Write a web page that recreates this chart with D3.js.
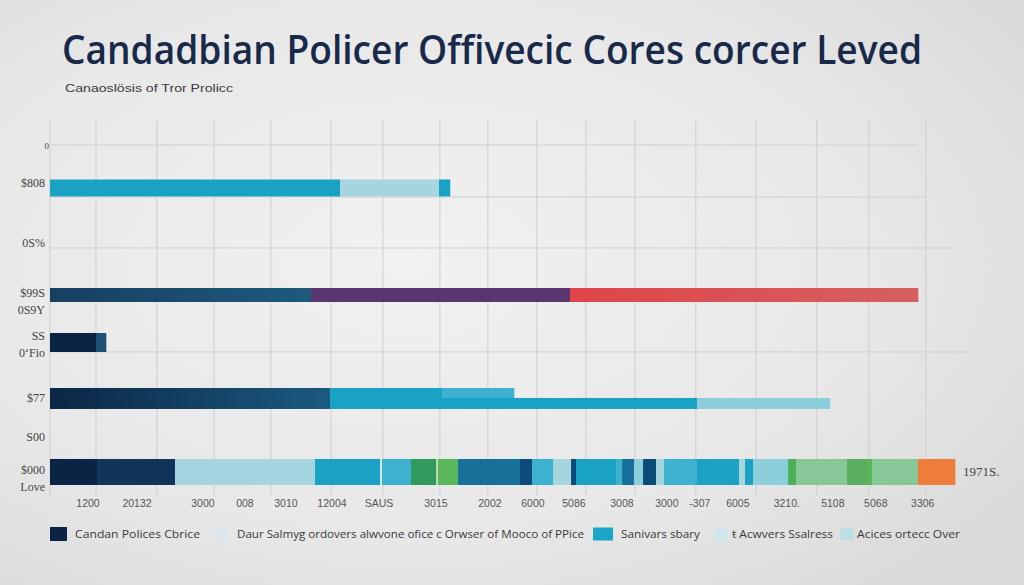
<!DOCTYPE html>
<html><head><meta charset="utf-8">
<script src="https://cdn.jsdelivr.net/npm/d3@7"></script>
<style>html,body{margin:0;padding:0;overflow:hidden;background:#e9e9e9}</style>
</head><body>
<svg id="chart" width="1024" height="585"></svg>
<script>
// ---------- data ----------
const titleText = "Candadbian Policer Offivecic Cores corcer Leved";
const subtitleText = "Canaoslösis of Tror Prolicc";

const xTickLabels = ["1200","20132","3000","008","3010","12004","SAUS","3015","2002","6000","5086","3008","3000","-307","6005","3210.","5108","5068","3306"];
const xTickValues = [694,1589,2794,3561,4310,5150,6008,7049,8035,8820,9569,10446,11267,11869,12563,13458,14298,15083,15941];
const xGridValues = [0,840,1954,2995,4035,5131,6081,7122,7998,8893,9787,10682,11796,12892,14006,14955,15996];

const yTickLabels = ["0","$808","0S%","$99S","0S9Y","SS","0ʻFio","$77","S00","$000","Love"];
const yTickLevels = [0,1.11,2.87,4.33,4.82,5.59,6.08,7.40,8.54,9.50,10];

const hGridLevels = [0,1.52,3.01,6.05];
const hGridEnds = [15832,15996,16489,16800];

const rowLevels = [1.257,4.386,5.775,7.251,7.558,9.561];

const row1Keys = ["teal","aqua","teal"];
const row1Values = [5297,1808,201];
const row2Keys = ["deepGrad","purple","redGrad"];
const row2Values = [4767,4731,6356];
const row3Keys = ["navy","deep"];
const row3Values = [840,183];
const row4aKeys = ["navyGrad","teal","tealLt"];
const row4aValues = [5114,2046,1315];
const row4bKeys = ["navyGrad","teal","sky"];
const row4bValues = [5114,6703,2429];
const row5Keys = ["navy","navy2","aqua","teal","pale","tealLt","green","paleGreen","greenLt","ocean","marine","tealLt","aqua","marine","teal","tealLt","ocean","sky","marine","aqua","tealLt","teal","aqua","teal","sky","green2","sage","greenMid","greenLt","sage","orange"];
const row5Values = [858,1425,2557,1187,37,530,457,37,365,1132,219,384,329,91,731,110,219,164,237,146,603,767,110,146,639,146,932,384,73,840,676];
const endLabel = "1971S.";

const legendLabels = ["Candan Polices Cbrice","Daur Salmyg ordovers alwvone ofice c Orwser of Mooco of PPice","Sanivars sbary","ŧ Acwvers Ssalress","Acices ortecc Over"];
const legendKeys = ["navy","legPale","legTeal","legLight","legLight2"];

// ---------- styles ----------
const palette = {
  navy:"#0b2444", navy2:"#10345a", deep:"#1c4f73", purple:"#5a3670",
  teal:"#19a2c4", tealLt:"#3db1cf", aqua:"#a5d6df", pale:"#d2e9ee", sky:"#8ccfdb",
  ocean:"#17709a", marine:"#0c4a78", green:"#2f9a5c", greenLt:"#5ab65a", paleGreen:"#b9dcb8",
  green2:"#4caf5a", sage:"#88c796", greenMid:"#5aad5e", orange:"#ef7d3a",
  legPale:"#dde6ea", legTeal:"#1aa6c8", legLight:"#cfe6ec", legLight2:"#bfdfe6",
  navyGrad:"url(#gNavy)", deepGrad:"url(#gDeep)", redGrad:"url(#gRed)"
};
const gradients = [["gNavy","#0b2646","#1b5a80"],["gDeep","#173f62","#1d5a7c"],["gRed","#de4549","#d6605f"]];
const rowThickness = [17,14,19,10,11,26];
const legendSwatch = [[50,17,14],[215,13,14],[593,20,13],[715,13,13],[840,14,13]];
const legendTextPos = [[75,125],[237,347],[621,79],[732,101],[857,103]];

// ---------- drawing ----------
const svg = d3.select("#chart");
const defs = svg.append("defs");
const bg = defs.append("radialGradient").attr("id","bg").attr("cx","0.4").attr("cy","0.45").attr("r","0.75");
bg.append("stop").attr("offset","0").attr("stop-color","#f1f1f1");
bg.append("stop").attr("offset","0.6").attr("stop-color","#e8e8e8");
bg.append("stop").attr("offset","1").attr("stop-color","#d9d9d9");
gradients.forEach(([id,c0,c1])=>{
  const g = defs.append("linearGradient").attr("id",id).attr("x1","0").attr("x2","1").attr("y1","0").attr("y2","0");
  g.append("stop").attr("offset","0").attr("stop-color",c0);
  g.append("stop").attr("offset","1").attr("stop-color",c1);
});
svg.append("rect").attr("width",1024).attr("height",585).attr("fill","url(#bg)");

const x = d3.scaleLinear().domain([0,16000]).range([50,926]);
const y = d3.scaleLinear().domain([0,10]).range([145,487]);

// title
svg.append("text").attr("x",62).attr("y",64).text(titleText)
  .attr("font-family","'Open Sans', Lato, sans-serif").attr("font-weight",600)
  .attr("font-size",39).attr("fill","#18294a")
  .attr("textLength",860).attr("lengthAdjust","spacingAndGlyphs");
svg.append("text").attr("x",65).attr("y",92).text(subtitleText)
  .attr("font-family","'Liberation Sans Narrow', 'Liberation Sans', sans-serif")
  .attr("font-size",11).attr("fill","#3a3a3a")
  .attr("textLength",168).attr("lengthAdjust","spacingAndGlyphs");

// grid
const grid = svg.append("g");
grid.selectAll("line.v").data(xGridValues).join("line").attr("class","v")
  .attr("x1",d=>x(d)).attr("x2",d=>x(d)).attr("y1",120).attr("y2",495)
  .attr("stroke","#cdcdcd").attr("stroke-width",1);
grid.selectAll("line.h").data(hGridLevels).join("line").attr("class","h")
  .attr("x1",x(0)).attr("x2",(d,i)=>x(hGridEnds[i])).attr("y1",d=>y(d)).attr("y2",d=>y(d))
  .attr("stroke","#d0d0d0").attr("stroke-width",1);

// bars
const rows = [
  [row1Keys,row1Values],[row2Keys,row2Values],[row3Keys,row3Values],
  [row4aKeys,row4aValues],[row4bKeys,row4bValues],[row5Keys,row5Values]
];
const segs = [];
rows.forEach(([keys,vals],ri)=>{
  const cum = d3.cumsum(vals);
  vals.forEach((v,j)=>segs.push({row:ri,key:keys[j],x0:cum[j]-v,x1:cum[j]}));
});
svg.append("g").selectAll("rect").data(segs).join("rect")
  .attr("x",d=>x(d.x0)).attr("width",d=>Math.max(0,x(d.x1)-x(d.x0))+0.3)
  .attr("y",d=>y(rowLevels[d.row])-rowThickness[d.row]/2)
  .attr("height",d=>rowThickness[d.row])
  .attr("fill",d=>palette[d.key]);

// end label
const lastTotal = d3.sum(row5Values);
svg.append("text").attr("x",x(lastTotal)+8).attr("y",y(rowLevels[5])+4).text(endLabel)
  .attr("font-family","'Liberation Serif', serif").attr("font-size",13).attr("fill","#444");

// y labels
svg.append("g").selectAll("text").data(yTickLabels).join("text")
  .attr("x",(d,i)=>i===0?49:45).attr("y",(d,i)=>y(yTickLevels[i])+4)
  .attr("text-anchor","end").text(d=>d)
  .attr("font-family","'Liberation Serif', serif").attr("font-size",(d,i)=>i===0?9:12)
  .attr("fill","#444");

// x labels
svg.append("g").selectAll("text").data(xTickLabels).join("text")
  .attr("x",(d,i)=>x(xTickValues[i])).attr("y",507).attr("text-anchor","middle").text(d=>d)
  .attr("font-family","'Liberation Sans', sans-serif").attr("font-size",10.5).attr("fill","#555");

// legend
const lg = svg.append("g");
legendKeys.forEach((k,i)=>{
  const [sx,sw,sh] = legendSwatch[i];
  lg.append("rect").attr("x",sx).attr("y",534-sh/2).attr("width",sw).attr("height",sh).attr("fill",palette[k]);
  const [tx,tw] = legendTextPos[i];
  lg.append("text").attr("x",tx).attr("y",538).text(legendLabels[i])
    .attr("font-family","'Open Sans', sans-serif").attr("font-size",11.5).attr("fill","#3a3a3a")
    .attr("textLength",tw).attr("lengthAdjust","spacingAndGlyphs");
});
</script>
</body></html>
